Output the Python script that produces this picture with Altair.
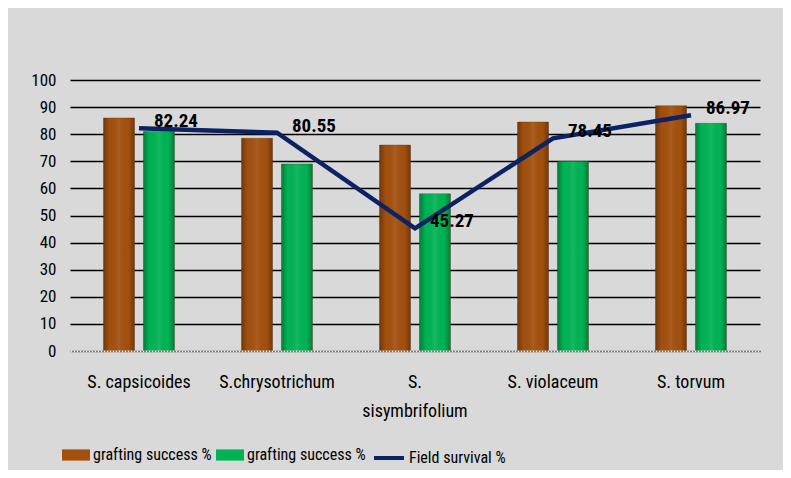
import altair as alt
import pandas as pd

categories = ["S. capsicoides", "S.chrysotrichum", "S. sisymbrifolium", "S. violaceum", "S. torvum"]
graft_a = [86, 78.5, 76, 84.5, 90.5]
graft_b = [81, 69, 58, 70, 84]
survival = [82.24, 80.55, 45.27, 78.45, 86.97]
y_ticks = list(range(0, 101, 10))

FONT = "Liberation Sans Narrow, Arial Narrow, Roboto Condensed, Liberation Sans, sans-serif"
BROWN = "#a3500e"
GREEN = "#00b354"
NAVY = "#0b2263"

bars_df = pd.DataFrame(
    [{"cat": c, "series": "g1", "value": v} for c, v in zip(categories, graft_a)]
    + [{"cat": c, "series": "g2", "value": v} for c, v in zip(categories, graft_b)]
)
line_df = pd.DataFrame({"cat": categories, "value": survival, "s": ["Field survival %"] * len(categories)})

x_enc = alt.X(
    "cat:N",
    sort=categories,
    scale=alt.Scale(paddingInner=0.486, paddingOuter=0.243),
    axis=alt.Axis(
        title=None, labelAngle=0, ticks=False, labelFontSize=18, labelPadding=22,
        labelColor="black", labelFont=FONT, labelLineHeight=29,
        labelExpr="datum.label == 'S. sisymbrifolium' ? ['S.', 'sisymbrifolium'] : datum.label",
        domainColor="#f4f4f4", domainDash=[2, 1], domainWidth=2, zindex=1,
    ),
)
y_enc = alt.Y(
    "value:Q",
    scale=alt.Scale(domain=[0, 100], nice=False),
    axis=alt.Axis(
        title=None, values=y_ticks, grid=True, gridColor="black", gridWidth=1.5,
        domain=False, ticks=False, labelFontSize=17, labelPadding=14, labelColor="black",
        labelFont=FONT,
    ),
)
xoff = alt.XOffset("series:N", scale=alt.Scale(paddingInner=0.225, paddingOuter=0))

bars = alt.Chart(bars_df).mark_bar(strokeWidth=1, stroke="#5a3010", strokeOpacity=0.35).encode(
    x=x_enc,
    xOffset=xoff,
    y=y_enc,
    fill=alt.Fill(
        "series:N",
        scale=alt.Scale(domain=["g1", "g2"], range=[BROWN, GREEN]),
        legend=alt.Legend(
            title=None, orient="none", legendX=-8, legendY=361, direction="horizontal",
            labelExpr="'grafting success %'", symbolType="M-1,-0.4L1,-0.4L1,0.4L-1,0.4Z",
            symbolSize=784, symbolStrokeWidth=0, labelFontSize=16, labelFont=FONT,
            labelColor="black", columnPadding=4, labelOffset=3,
        ),
    ),
)

shade = alt.Chart(bars_df).mark_bar(
    color=alt.Gradient(
        gradient="linear", x1=0, x2=1, y1=0, y2=0,
        stops=[
            alt.GradientStop(color="rgba(0,0,0,0.30)", offset=0),
            alt.GradientStop(color="rgba(0,0,0,0)", offset=0.2),
            alt.GradientStop(color="rgba(255,255,255,0.08)", offset=0.5),
            alt.GradientStop(color="rgba(0,0,0,0)", offset=0.8),
            alt.GradientStop(color="rgba(0,0,0,0.30)", offset=1),
        ],
    )
).encode(x=x_enc, xOffset=xoff, y=y_enc)

line = alt.Chart(line_df).mark_line(strokeWidth=4.5).encode(
    x=x_enc,
    y=y_enc,
    stroke=alt.Stroke(
        "s:N",
        scale=alt.Scale(domain=["Field survival %"], range=[NAVY]),
        legend=alt.Legend(
            title=None, orient="none", legendX=302, legendY=361, symbolType="stroke",
            symbolSize=900, symbolStrokeWidth=4, labelFontSize=16, labelFont=FONT,
            labelColor="black", labelOffset=3,
        ),
    ),
)

labels = alt.Chart(line_df).mark_text(
    align="left", baseline="middle", dx=15, dy=-7, fontSize=19, fontWeight="bold",
    font=FONT, color="black",
).encode(x=x_enc, y=y_enc, text=alt.Text("value:Q", format=".2f"))

chart = (
    alt.layer(bars, shade, line, labels)
    .properties(
        width=690, height=271,
        autosize=alt.AutoSizeParams(type="none"),
        padding={"left": 62, "top": 72, "right": 23, "bottom": 119},
        background="#d9d9d9",
    )
    .configure_view(stroke=None)
)

chart.save("out.html", embed_options={"renderer": "svg", "actions": False})
